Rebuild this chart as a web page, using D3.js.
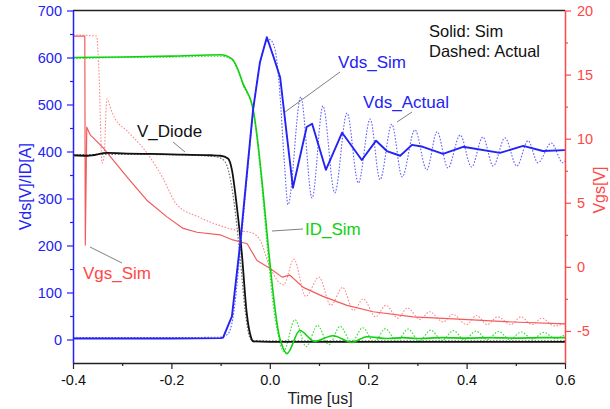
<!DOCTYPE html>
<html><head><meta charset="utf-8">
<script src="https://cdn.jsdelivr.net/npm/d3@7"></script>
<style>
html,body{margin:0;padding:0;background:#fff;}
text{font-family:"Liberation Sans",Arial,sans-serif;}
</style></head>
<body><svg id="c" width="610" height="409"></svg>
<script>
// ---- data (time in us) ----
const vdsSim = [[-0.4,2],[-0.3,2],[-0.2,2],[-0.1,3],[-0.095,4],[-0.077,49],[-0.06,206],[-0.045,370],[-0.034,489],[-0.02,590],[-0.006,643],[0.008,600],[0.021,558],[0.034,440],[0.047,323],[0.075,452],[0.086,459],[0.114,361],[0.147,440],[0.187,382],[0.216,423],[0.238,401],[0.265,391],[0.289,414],[0.311,410],[0.352,395],[0.393,410],[0.468,397],[0.515,412],[0.555,401],[0.6,403]];
const vdsAct = [[-0.4,4],[-0.3,4],[-0.2,4],[-0.1,5],[-0.085,12],[-0.075,45],[-0.06,190],[-0.045,360],[-0.03,520],[-0.015,610],[0.0,638],[0.01,620],[0.02,530],[0.03,370],[0.037,287],[0.063,516],[0.086,301],[0.108,497],[0.132,312],[0.157,482],[0.18,333],[0.204,469],[0.224,340],[0.248,458],[0.269,346],[0.295,446],[0.319,361],[0.34,442],[0.362,365],[0.387,435],[0.41,367],[0.433,431],[0.454,369],[0.478,429],[0.502,369],[0.525,423],[0.545,376],[0.572,418],[0.596,376],[0.6,380]];
const idSim = [[-0.4,600],[-0.3,601],[-0.2,603],[-0.1,606],[-0.077,597],[-0.065,575],[-0.055,546],[-0.036,500],[0.021,0],[0.035,-30],[0.061,19],[0.091,-4],[0.128,8],[0.167,-6],[0.197,6],[0.24,2],[0.27,4],[0.3,2],[0.35,4],[0.4,3],[0.45,4],[0.5,3],[0.55,4],[0.6,4]];
const idAct = [[-0.4,598],[-0.3,600],[-0.2,601],[-0.1,603],[-0.077,596],[-0.065,572],[-0.055,543],[-0.036,496],[0.015,20],[0.028,-25],[0.051,42],[0.074,-15],[0.097,30],[0.12,-11],[0.143,28],[0.166,-6],[0.189,25],[0.212,-5],[0.235,23],[0.258,-4],[0.281,22],[0.304,-3],[0.327,20],[0.35,-2],[0.373,19],[0.396,-1],[0.419,18],[0.442,0],[0.465,17],[0.488,0],[0.511,16],[0.534,1],[0.557,15],[0.58,2],[0.6,10]];
const vDiodeSim = [[-0.4,392],[-0.37,391],[-0.33,397],[-0.3,396],[-0.2,394],[-0.12,392],[-0.1,391],[-0.085,385],[-0.077,361],[-0.067,283],[-0.057,185],[-0.047,57],[-0.038,4],[-0.034,-4],[0.0,-5],[0.6,-5]];
const vDiodeAct = [[-0.4,393],[-0.3,394],[-0.2,393],[-0.12,390],[-0.1,386],[-0.088,372],[-0.08,340],[-0.07,270],[-0.06,170],[-0.05,60],[-0.041,5],[-0.035,-2],[0.0,-3],[0.6,-3]];
const vgsSim = [[-0.4,18],[-0.376,18],[-0.375,1.7],[-0.372,10.9],[-0.365,10.3],[-0.339,9.3],[-0.29,7.0],[-0.25,5.2],[-0.209,3.9],[-0.176,3.0],[-0.148,2.7],[-0.101,2.5],[-0.075,2.1],[-0.046,1.8],[-0.026,0.5],[0.0,-0.1],[0.025,-0.8],[0.041,-0.65],[0.068,-1.6],[0.108,-2.3],[0.157,-3.0],[0.21,-3.5],[0.291,-3.9],[0.393,-4.1],[0.494,-4.3],[0.6,-4.45]];
const vgsAct = [[-0.4,18.1],[-0.352,18],[-0.347,15],[-0.341,8.1],[-0.337,8.6],[-0.331,13.1],[-0.323,12.3],[-0.315,11.6],[-0.29,10.6],[-0.25,8.9],[-0.217,6.9],[-0.19,4.9],[-0.142,3.85],[-0.1,3.2],[-0.06,2.8],[-0.04,2.7],[-0.02,2.1],[0.0,0],[0.028,-1.4],[0.049,0.6],[0.073,-2.3],[0.1,-0.8],[0.124,-3.0],[0.148,-1.6],[0.17,-3.4],[0.19,-2.5],[0.215,-3.9],[0.236,-3.0],[0.26,-4.0],[0.28,-3.2],[0.305,-4.1],[0.325,-3.5],[0.352,-4.3],[0.372,-3.7],[0.4,-4.5],[0.42,-3.8],[0.442,-4.5],[0.463,-3.9],[0.49,-4.5],[0.51,-3.9],[0.533,-4.5],[0.553,-4.0],[0.578,-4.6],[0.6,-4.4]];

const xTicks = [-0.4,-0.2,0.0,0.2,0.4,0.6];
const xTickLabels = ["-0.4","-0.2","0.0","0.2","0.4","0.6"];
const xMinor = [-0.3,-0.1,0.1,0.3,0.5];
const yLTicks = [0,100,200,300,400,500,600,700];
const yLMinor = [50,150,250,350,450,550,650];
const yRTicks = [-5,0,5,10,15,20];
const yRTickLabels = ["-5","0","5","10","15","20"];
const yRMinor = [-2.5,2.5,7.5,12.5,17.5];

// ---- layout ----
const L=73, R=565, T=10.5, B=363;
const svg = d3.select("#c");
const x = d3.scaleLinear().domain([-0.4,0.6]).range([L,R]);
const yL = d3.scaleLinear().domain([-50,700]).range([B,T]);
const yR = d3.scaleLinear().domain([-7.5,20]).range([B,T]);

const BLUE="#2323f5", RED="#ff4747", GREEN="#10d010";

svg.append("clipPath").attr("id","pc").append("rect").attr("x",L).attr("y",T-6).attr("width",R-L).attr("height",B-T+6);
const g = svg.append("g").attr("clip-path","url(#pc)");

function draw(data, ys, color, w, dashed, curve){
  const line = d3.line().x(d=>x(d[0])).y(d=>ys(d[1])).curve(curve||d3.curveLinear);
  g.append("path").datum(data).attr("d",line).attr("fill","none")
   .attr("stroke",color).attr("stroke-width",w)
   .attr("stroke-dasharray",dashed?"1.6,1.6":null)
   .attr("stroke-linejoin","round");
}
// dashed (actual)
draw(vgsAct, yR, "#ff8a8a", 1.1, true, d3.curveMonotoneX);
draw(vDiodeAct, yL, "#707070", 1.2, true, d3.curveMonotoneX);
draw(idAct, yL, "#3ee03e", 1.2, true, d3.curveMonotoneX);
draw(vdsAct, yL, "#6060ff", 1.1, true, d3.curveMonotoneX);
// solid (sim)
draw(vgsSim, yR, "#f45a5a", 1.2, false, d3.curveLinear);
draw(vDiodeSim, yL, "#111", 1.8, false, d3.curveMonotoneX);
draw(idSim, yL, GREEN, 1.6, false, d3.curveMonotoneX);
draw(vdsSim, yL, BLUE, 1.9, false, d3.curveLinear);

// ---- axes ----
function styleAxis(sel, color){
  sel.selectAll("path").attr("stroke",color).attr("stroke-width",1.5);
  sel.selectAll("line").attr("stroke",color).attr("stroke-width",1.2);
  sel.selectAll("text").attr("fill",color).style("font-size","14.5px").style("font-family","'Liberation Sans',Arial,sans-serif");
}
// top frame
svg.append("line").attr("x1",L).attr("x2",R).attr("y1",T).attr("y2",T).attr("stroke","#222").attr("stroke-width",1.5);
// bottom
const xa = svg.append("g").attr("transform",`translate(0,${B})`)
  .call(d3.axisBottom(x).tickValues(xTicks).tickFormat((d,i)=>xTickLabels[i]).tickSize(6).tickSizeOuter(0).tickPadding(6));
styleAxis(xa,"#222"); xa.selectAll("text").attr("fill","#111");
svg.append("g").attr("transform",`translate(0,${B})`)
  .call(d3.axisBottom(x).tickValues(xMinor).tickFormat("").tickSize(3).tickSizeOuter(0))
  .call(s=>{s.select("path").remove(); s.selectAll("line").attr("stroke","#222").attr("stroke-width",1.2);});
// left
const la = svg.append("g").attr("transform",`translate(${L},0)`)
  .call(d3.axisLeft(yL).tickValues(yLTicks).tickFormat(d3.format("d")).tickSize(6).tickSizeOuter(0).tickPadding(5));
styleAxis(la,BLUE);
svg.append("g").attr("transform",`translate(${L},0)`)
  .call(d3.axisLeft(yL).tickValues(yLMinor).tickFormat("").tickSize(3).tickSizeOuter(0))
  .call(s=>{s.select("path").remove(); s.selectAll("line").attr("stroke",BLUE).attr("stroke-width",1.2);});
// right
const ra = svg.append("g").attr("transform",`translate(${R},0)`)
  .call(d3.axisRight(yR).tickValues(yRTicks).tickFormat((d,i)=>yRTickLabels[i]).tickSize(6).tickSizeOuter(0).tickPadding(6));
styleAxis(ra,RED);
svg.append("g").attr("transform",`translate(${R},0)`)
  .call(d3.axisRight(yR).tickValues(yRMinor).tickFormat("").tickSize(3).tickSizeOuter(0))
  .call(s=>{s.select("path").remove(); s.selectAll("line").attr("stroke",RED).attr("stroke-width",1.2);});

// axis titles
svg.append("text").attr("x",320).attr("y",404).attr("text-anchor","middle").attr("fill","#222").style("font-size","16px").text("Time [us]");
svg.append("text").attr("transform",`translate(31,${(T+B)/2}) rotate(-90)`).attr("text-anchor","middle").attr("fill",BLUE).style("font-size","16px").text("Vds[V]/ID[A]");
svg.append("text").attr("transform",`translate(605,190) rotate(-90)`).attr("text-anchor","middle").attr("fill",RED).style("font-size","16px").text("Vgs[V]");

// legend notes
svg.append("text").attr("x",429).attr("y",37).attr("fill","#111").style("font-size","16.5px").text("Solid: Sim");
svg.append("text").attr("x",429).attr("y",57).attr("fill","#111").style("font-size","16.5px").text("Dashed: Actual");

// series labels with leader lines
const labels = [
  {t:"Vds_Sim", x:338, y:68, c:BLUE, l:[340,72,285,112]},
  {t:"Vds_Actual", x:363, y:108, c:BLUE, l:[412,112,397,122]},
  {t:"V_Diode", x:137, y:137, c:"#111", l:[173,142,185,152]},
  {t:"Vgs_Sim", x:83, y:279, c:RED, l:[122,263,90,247]},
  {t:"ID_Sim", x:305, y:235, c:GREEN, l:[303,229,272,231]}
];
labels.forEach(d=>{
  svg.append("line").attr("x1",d.l[0]).attr("y1",d.l[1]).attr("x2",d.l[2]).attr("y2",d.l[3]).attr("stroke","#808080").attr("stroke-width",1);
  svg.append("text").attr("x",d.x).attr("y",d.y).attr("fill",d.c).style("font-size","17px").text(d.t);
});
</script></body></html>
